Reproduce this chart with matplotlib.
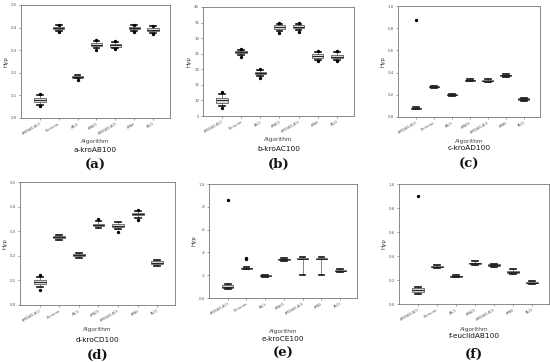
import matplotlib
matplotlib.use("Agg")
import matplotlib.pyplot as plt

algorithms = ["#MOEA/D-ACO", "Bicriterion", "#ACS", "#MACS", "#MOEA/D-ACS", "#MAS", "PACO"]

# (a) a-kroAB100
a_med = [0.078, 0.397, 0.182, 0.325, 0.322, 0.397, 0.390]
a_q1 = [0.070, 0.392, 0.179, 0.320, 0.316, 0.392, 0.385]
a_q3 = [0.088, 0.402, 0.185, 0.330, 0.328, 0.402, 0.397]
a_lo = [0.058, 0.386, 0.175, 0.310, 0.308, 0.386, 0.377]
a_hi = [0.100, 0.410, 0.190, 0.340, 0.336, 0.410, 0.405]
a_fl = [[0.052, 0.108], [0.381, 0.413], [0.170], [0.300, 0.345], [0.304, 0.340], [0.381, 0.413], [0.370, 0.408]]

# (b) b-kroAC100
b_med = [10.0, 25.5, 18.8, 33.5, 33.7, 24.2, 24.1]
b_q1 = [9.3, 25.2, 18.5, 32.9, 33.2, 23.6, 23.5]
b_q3 = [10.8, 25.8, 19.1, 34.1, 34.1, 24.8, 24.7]
b_lo = [8.2, 24.6, 17.8, 32.2, 32.5, 23.0, 23.0]
b_hi = [12.0, 26.2, 19.7, 34.7, 34.7, 25.5, 25.5]
b_fl = [[7.5, 12.8], [24.0, 26.5], [17.3, 20.0], [31.8, 35.0], [32.0, 35.0], [22.8, 25.8], [22.8, 26.0]]

# (c) c-kroAD100
c_med = [0.078, 0.272, 0.200, 0.330, 0.328, 0.375, 0.160]
c_q1 = [0.073, 0.268, 0.196, 0.326, 0.322, 0.369, 0.154]
c_q3 = [0.083, 0.277, 0.204, 0.336, 0.334, 0.382, 0.167]
c_lo = [0.068, 0.262, 0.190, 0.320, 0.315, 0.360, 0.145]
c_hi = [0.088, 0.282, 0.210, 0.342, 0.340, 0.390, 0.175]
c_fl = [[0.87], [], [], [], [], [], []]

# (d) d-kroCD100
d_med = [0.092, 0.275, 0.202, 0.325, 0.323, 0.370, 0.172]
d_q1 = [0.085, 0.271, 0.198, 0.320, 0.317, 0.366, 0.167]
d_q3 = [0.100, 0.279, 0.206, 0.330, 0.330, 0.375, 0.178]
d_lo = [0.075, 0.266, 0.192, 0.313, 0.308, 0.355, 0.160]
d_hi = [0.115, 0.284, 0.212, 0.340, 0.338, 0.382, 0.183]
d_fl = [[0.063, 0.123], [], [], [0.350], [0.298], [0.347, 0.387], []]

# (e) e-kroCE100
e_med = [0.100, 0.260, 0.195, 0.340, 0.345, 0.345, 0.240]
e_q1 = [0.090, 0.257, 0.192, 0.335, 0.340, 0.340, 0.235]
e_q3 = [0.112, 0.263, 0.198, 0.345, 0.350, 0.350, 0.248]
e_lo = [0.080, 0.252, 0.188, 0.325, 0.200, 0.200, 0.225]
e_hi = [0.122, 0.268, 0.200, 0.355, 0.360, 0.360, 0.255]
e_fl = [[0.86], [0.340, 0.350], [], [], [], [], []]

# (f) f-euclidAB100
f_med = [0.115, 0.310, 0.233, 0.338, 0.323, 0.268, 0.178]
f_q1 = [0.100, 0.305, 0.229, 0.332, 0.318, 0.260, 0.173]
f_q3 = [0.130, 0.316, 0.237, 0.344, 0.330, 0.276, 0.183]
f_lo = [0.085, 0.298, 0.222, 0.325, 0.312, 0.250, 0.168]
f_hi = [0.145, 0.322, 0.244, 0.355, 0.337, 0.290, 0.188]
f_fl = [[0.90], [], [], [], [], [], []]

ytick_a = [0.0, 0.1, 0.2, 0.3, 0.4, 0.5]
ytick_b = [5, 10, 15, 20, 25, 30, 35, 40]
ytick_c = [0.0, 0.2, 0.4, 0.6, 0.8, 1.0]
yticklab_a = ["0.0", "0.1", "0.2", "0.3", "0.4", "0.5"]
yticklab_b = ["5", "10", "15", "20", "25", "30", "35", "40"]
yticklab_c = ["0.0", "0.2", "0.4", "0.6", "0.8", "1.0"]
yticklab_e = ["0.0", ".2", ".4", ".6", ".8", "1.0"]

datasets = ["a-kroAB100", "b-kroAC100", "c-kroAD100", "d-kroCD100", "e-kroCE100", "f-euclidAB100"]
letters = ["(a)", "(b)", "(c)", "(d)", "(e)", "(f)"]

W, H = 550, 362
fig = plt.figure(figsize=(W / 100, H / 100), dpi=100)

# axes rectangles in pixels: left, right, top, bottom
rects = [(21, 170, 5, 118), (203, 354, 7, 116), (398, 540, 6, 117),
         (20, 175, 182, 305), (209, 357, 184, 298), (399, 549, 184, 304)]
# caption y positions in pixels: Algorithm, dataset, letter
caps = [(142, 150, 165), (140, 149, 164), (141, 148, 164),
        (330, 340, 355), (332, 339, 353), (329, 336, 354)]

panels = [
    (a_med, a_q1, a_q3, a_lo, a_hi, a_fl, ytick_a, yticklab_a, (0, 0.5)),
    (b_med, b_q1, b_q3, b_lo, b_hi, b_fl, ytick_b, yticklab_b, (5, 40)),
    (c_med, c_q1, c_q3, c_lo, c_hi, c_fl, ytick_c, yticklab_c, (0, 1.0)),
    (d_med, d_q1, d_q3, d_lo, d_hi, d_fl, ytick_a, yticklab_a, (0, 0.5)),
    (e_med, e_q1, e_q3, e_lo, e_hi, e_fl, ytick_c, yticklab_e, (0, 1.0)),
    (f_med, f_q1, f_q3, f_lo, f_hi, f_fl, ytick_c, yticklab_c, (0, 1.0)),
]

for i, (med, q1, q3, lo, hi, fl, yt, ytl, ylim) in enumerate(panels):
    l, r, t, b = rects[i]
    ax = fig.add_axes([l / W, 1 - b / H, (r - l) / W, (b - t) / H])
    stats = []
    for k in range(len(algorithms)):
        stats.append(dict(med=med[k], q1=q1[k], q3=q3[k], whislo=lo[k], whishi=hi[k],
                          fliers=fl[k], label=algorithms[k]))
    ax.bxp(stats, widths=0.6, patch_artist=True, showfliers=True,
           boxprops=dict(facecolor="#d6d6d6", edgecolor="#444444", linewidth=0.5),
           medianprops=dict(color="#222222", linewidth=0.7),
           whiskerprops=dict(color="#555555", linewidth=0.5),
           capprops=dict(color="#111111", linewidth=1.2),
           flierprops=dict(marker="o", markersize=1.4, markerfacecolor="black",
                           markeredgecolor="black", linestyle="none"))
    ax.set_ylim(*ylim)
    ax.set_xlim(0.0, len(algorithms) + 0.9)
    ax.set_yticks(yt)
    ax.set_yticklabels(ytl, fontsize=2.8, color="#333333")
    ax.set_xticks(range(1, len(algorithms) + 1))
    ax.set_xticklabels(algorithms, fontsize=2.2, rotation=30, ha="right",
                       rotation_mode="anchor", color="#333333")
    ax.tick_params(axis="both", length=1.5, width=0.4, pad=1.2, colors="#555555")
    ax.set_ylabel("Hyp", fontsize=4, color="#333333", labelpad=2)
    for s in ax.spines.values():
        s.set_color("#777777")
        s.set_linewidth(0.6)
    cx = (l + r) / 2 / W
    ya, yd, yl = caps[i]
    fig.text(cx, 1 - ya / H, "Algorithm", ha="center", va="center", fontsize=4.2, color="#444444")
    fig.text(cx, 1 - yd / H, datasets[i], ha="center", va="center", fontsize=5.3, color="#111111")
    fig.text(cx, 1 - yl / H, letters[i], ha="center", va="center", fontsize=9.5,
             family="DejaVu Serif", fontweight="bold", color="#111111")

fig.savefig("out.png", dpi=100)
